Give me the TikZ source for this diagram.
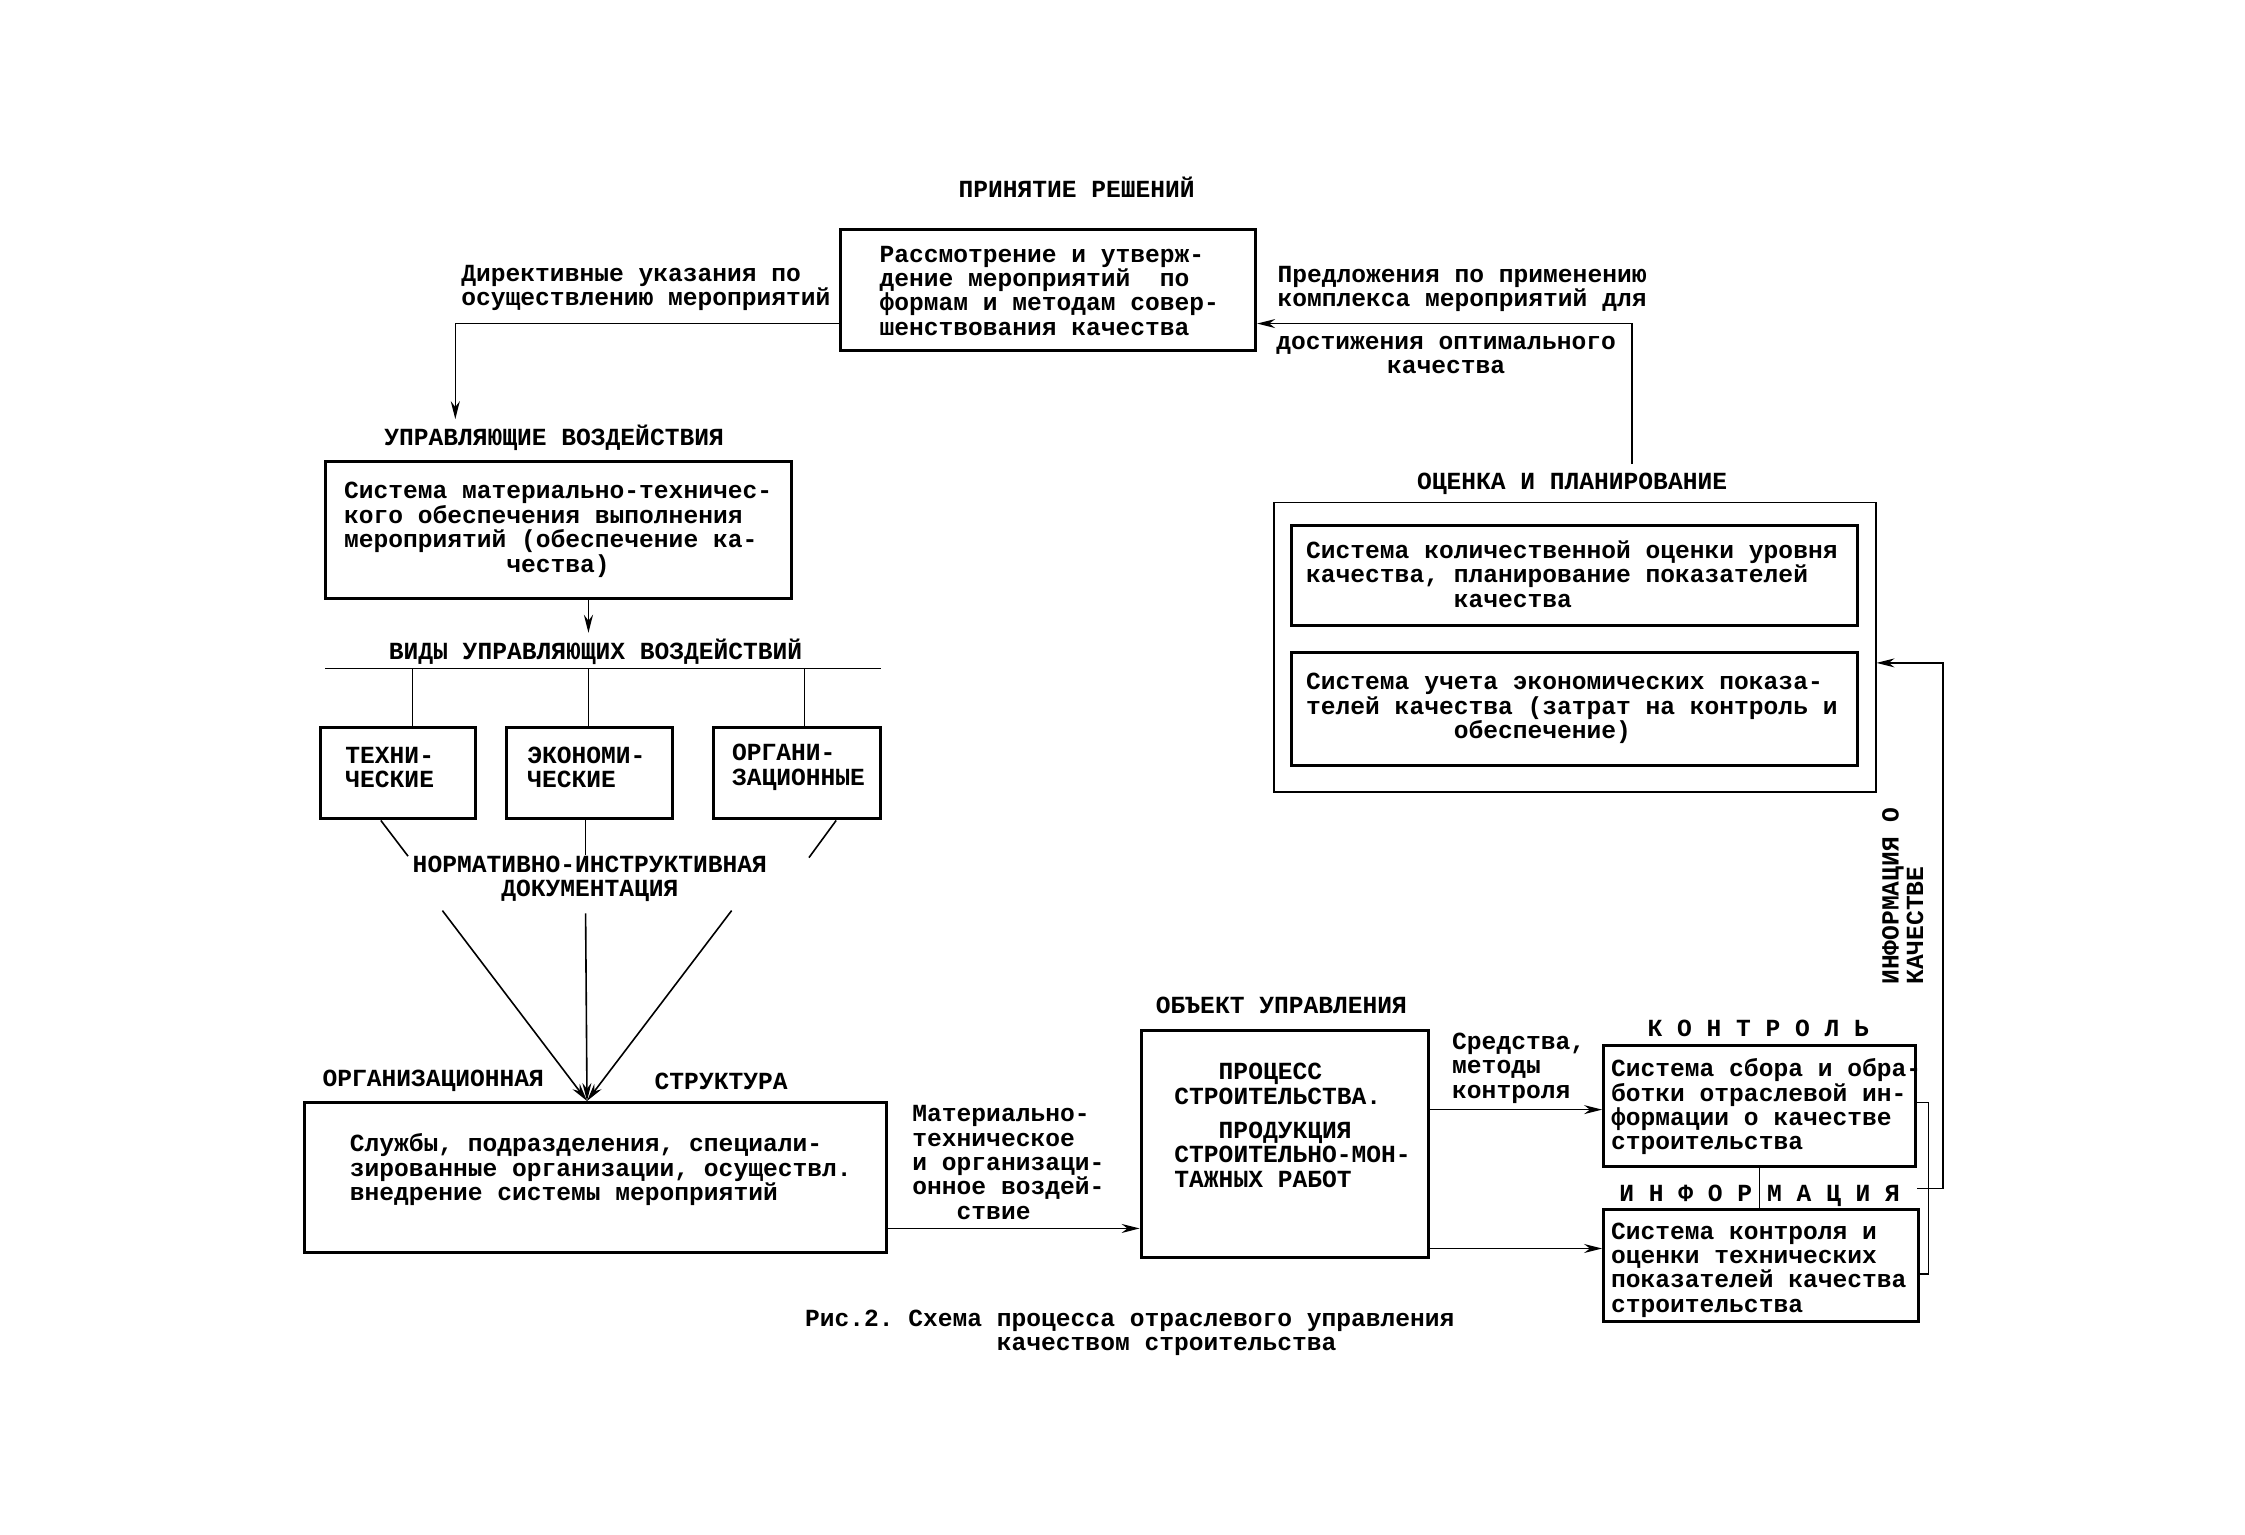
\documentclass[tikz,border=0pt]{standalone}
\usepackage{fontspec}
\setmonofont{Liberation Mono}
\usetikzlibrary{arrows.meta,calc,fit}
\newcommand{\mysp}[1]{\hspace*{\dimexpr0.6em*#1\relax}}
\begin{document}
\begin{tikzpicture}[x=0.7159pt,y=-0.7159pt,
  font=\ttfamily\bfseries\fontsize{12.3}{12.2}\selectfont,
  box/.style={draw, line width=1.5pt, inner sep=0pt},
  thinbox/.style={draw, line width=0.9pt, inner sep=0pt},
  txt/.style={inner sep=0pt, align=left},
  ctxt/.style={inner sep=0pt, align=center},
  conn/.style={line width=0.8pt},
  arr/.style={conn, -{Stealth[length=9pt,width=4.5pt]}},
]
\useasboundingbox (0,0) rectangle (1568,1072);

% ---- top: decision making
\node[ctxt] (t1) at (752,131) {ПРИНЯТИЕ РЕШЕНИЙ};
\node[box, fit={(587,160) (877,245)}] (topbox) {};
\node[txt, anchor=west] (topt) at (614,203) {Рассмотрение и утверж-\\дение мероприятий\mysp{2}по\\формам и методам совер-\\шенствования качества};
\node[txt, anchor=west] (dirt) at (322,201) {Директивные указания по\\осуществлению мероприятий};
\node[txt, anchor=west] (prt) at (892,202) {Предложения по применению\\комплекса мероприятий для};
\node[ctxt] (dost) at (1010,248) {достижения оптимального\\качества};

% ---- control actions
\node[ctxt] (uvt) at (387,306) {УПРАВЛЯЮЩИЕ ВОЗДЕЙСТВИЯ};
\node[box, fit={(227,322) (553,418)}] (mbox) {};
\node[txt, anchor=west] (mt) at (240,370) {Система материально-техничес-\\кого обеспечения выполнения\\мероприятий (обеспечение ка-\\\mysp{11}чества)};

\coordinate (lc) at (318,226);
\draw[arr] (topbox.west |- lc) -- (lc) -- ($(lc |- uvt.north)+(0,-4)$);

\node[ctxt] (ocet) at (1098,338) {ОЦЕНКА И ПЛАНИРОВАНИЕ};
\coordinate (rc) at (1140,226);
\draw[arr] ($(ocet.north -| rc)+(0,-6)$) -- (rc) -- (topbox.east |- rc);

% ---- kinds of control actions
\node[ctxt] (vidt) at (416,455) {ВИДЫ УПРАВЛЯЮЩИХ ВОЗДЕЙСТВИЙ};
\coordinate (ma) at (411,442);
\draw[arr] (mbox.south -| ma) -- (ma);
\coordinate (hl1) at (227,467);
\coordinate (hl2) at (615,467);
\draw[conn] (hl1) -- (hl2);

\node[box, fit={(224,508) (332,572)}] (tbox) {};
\node[box, fit={(354,508) (470,572)}] (ebox) {};
\node[box, fit={(498,508) (615,572)}] (obbox) {};
\node[txt, anchor=west] (tt) at (241,536) {ТЕХНИ-\\ЧЕСКИЕ};
\node[txt, anchor=west] (et) at (368,536) {ЭКОНОМИ-\\ЧЕСКИЕ};
\node[txt, anchor=west] (ot) at (511,536) {ОРГАНИ-\\ЗАЦИОННЫЕ};

\coordinate (v1) at (288,467);
\coordinate (v2) at (411,467);
\coordinate (v3) at (562,467);
\draw[conn] (v1) -- (tbox.north -| v1);
\draw[conn] (v2) -- (ebox.north -| v2);
\draw[conn] (v3) -- (obbox.north -| v3);

\node[ctxt] (doc) at (412,614) {НОРМАТИВНО-ИНСТРУКТИВНАЯ\\ДОКУМЕНТАЦИЯ};
\coordinate (d1a) at (266,572); \coordinate (d1b) at (285,598);
\coordinate (d2a) at (409,572); \coordinate (d2b) at (409,597);
\coordinate (d3a) at (584,572); \coordinate (d3b) at (565,599);
\draw[conn] (tbox.south -| d1a) -- (d1b);
\draw[conn] (ebox.south -| d2a) -- (d2b);
\draw[conn] (obbox.south -| d3a) -- (d3b);

% ---- organisational structure
\node[box, fit={(213,770) (619,875)}] (orgbox) {};
\node[txt, anchor=west] (orgt) at (244,817) {Службы, подразделения, специали-\\зированные организации, осуществл.\\внедрение системы мероприятий};
\node[txt, anchor=west] (orgl) at (225,755) {ОРГАНИЗАЦИОННАЯ};
\node[txt, anchor=west] (strl) at (457,755) {СТРУКТУРА};
\coordinate (a1) at (309,636);
\coordinate (a2) at (409,638);
\coordinate (a3) at (511,636);
\coordinate (conv) at (410,770);
\draw[arr] (a1) -- (orgbox.north -| conv);
\draw[arr] (a2) -- (orgbox.north -| conv);
\draw[arr] (a3) -- (orgbox.north -| conv);

% ---- object of control
\node[txt, anchor=west] (mtl) at (637,812) {Материально-\\техническое\\и организаци-\\онное воздей-\\\mysp{3}ствие};
\node[ctxt] (objt) at (895,702) {ОБЪЕКТ УПРАВЛЕНИЯ};
\node[box, fit={(797,720) (998,878)}] (obox) {};
\node[txt, anchor=west] (objtx) at (820,786) {\mysp{3}ПРОЦЕСС\\СТРОИТЕЛЬСТВА.\\[5pt]\mysp{3}ПРОДУКЦИЯ\\СТРОИТЕЛЬНО-МОН-\\ТАЖНЫХ РАБОТ};
\coordinate (ma2) at (622,858);
\draw[arr] (orgbox.east |- ma2) -- (obox.west |- ma2);

\node[txt, anchor=west] (smk) at (1014,746) {Средства,\\методы\\контроля};

% ---- control and information
\node[ctxt] (kt) at (1228,718) {К О Н Т Р О Л Ь};
\node[box, fit={(1120,730) (1338,815)}] (kbox) {};
\node[txt, anchor=west] (ktx) at (1125,773) {Система сбора и обра-\\ботки отраслевой ин-\\формации о качестве\\строительства};
\node[ctxt] (it) at (1229,835) {И Н Ф О Р М А Ц И Я};
\node[box, fit={(1120,845) (1340,923)}] (ibox) {};
\node[txt, anchor=west] (itx) at (1125,887) {Система контроля и\\оценки технических\\показателей качества\\строительства};
\draw[conn] (kbox.south) -- (kbox.south |- ibox.north);

\coordinate (k1) at (1000,775);
\coordinate (i1) at (1000,872);
\draw[arr] (obox.east |- k1) -- (kbox.west |- k1);
\draw[arr] (obox.east |- i1) -- (ibox.west |- i1);

% ---- evaluation and planning
\node[thinbox, fit={(890,351) (1310,553)}] (ocbox) {};
\node[box, fit={(902,367) (1297,437)}] (oc1) {};
\node[box, fit={(902,456) (1297,535)}] (oc2) {};
\node[txt, anchor=west] (oc1t) at (912,401) {Система количественной оценки уровня\\качества, планирование показателей\\\mysp{10}качества};
\node[txt, anchor=west] (oc2t) at (912,495) {Система учета экономических показа-\\телей качества (затрат на контроль и\\\mysp{10}обеспечение)};

% ---- feedback
\coordinate (b1) at (1347,770);
\coordinate (b2) at (1347,890);
\draw[conn] (kbox.east |- b1) -- (b1) -- (b2) -- (ibox.east |- b2);
\coordinate (o1) at (1357,830);
\coordinate (o2) at (1357,463);
\draw[arr] (kbox.east |- o1) -- (o1) -- (o2) -- (ocbox.east |- o2);
\node[txt, rotate=90, anchor=west] (infq) at (1329,688) {ИНФОРМАЦИЯ О\\КАЧЕСТВЕ};

% ---- caption
\node[txt, anchor=west] (cap) at (562,931) {Рис.2. Схема процесса отраслевого управления\\\mysp{13}качеством строительства};
\end{tikzpicture}
\end{document}
